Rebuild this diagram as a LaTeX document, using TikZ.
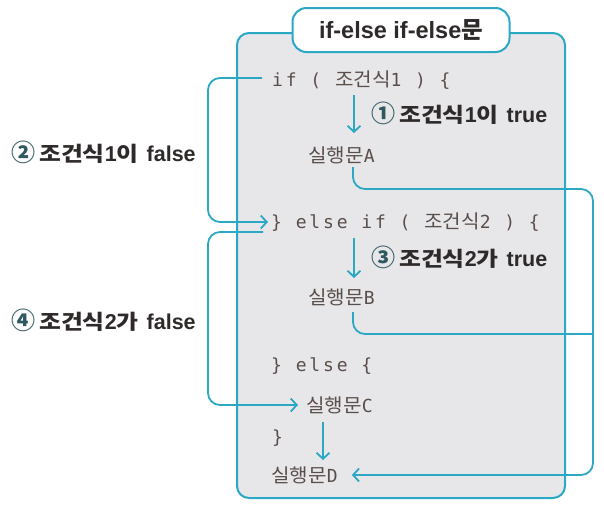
\documentclass[tikz,border=0pt]{standalone}
\usepackage{fontspec}
\setmainfont{Liberation Sans}
\newfontfamily\codefont{DejaVu Sans Mono}[LetterSpace=16]
\newfontfamily\kr{Noto Sans CJK KR}
\newfontfamily\krc{Noto Sans CJK KR}[FakeStretch=1.06]
\newfontfamily\krw{Noto Sans CJK KR}[FakeStretch=1.16]
\usetikzlibrary{arrows.meta}
\definecolor{cy}{HTML}{2AA8C4}
\definecolor{boxbg}{HTML}{E7E7EA}
\definecolor{codec}{HTML}{5A4E4A}
\definecolor{labc}{HTML}{2E2A2A}
\definecolor{numc}{HTML}{2F5960}
\tikzset{
  flow/.style={draw=cy, line width=1.8pt, rounded corners=12pt},
  arr/.style={-{Straight Barb[length=6pt,width=13pt,line width=1.8pt]}},
  code/.style={anchor=west, inner sep=0pt, text=codec, font=\codefont\fontsize{18}{20}\selectfont},
  lab/.style={anchor=west, inner sep=0pt, text=labc, font=\bfseries\fontsize{21.5}{22}\selectfont},
}
\newcommand{\kk}[1]{{\krc\fontsize{19}{20}\selectfont #1}}
\newcommand{\kl}[1]{{\krw\fontsize{20.5}{22}\selectfont #1}}
\newcommand{\circnum}[1]{{\kr\fontsize{24}{22}\selectfont\color{numc}#1}\hspace{4pt}}
\newcommand{\lsp}{\hspace{8pt}}
\begin{document}
\begin{tikzpicture}[x=1pt,y=-1pt]
\useasboundingbox (0,0) rectangle (604,509);
% main box
\draw[cy, line width=2pt, fill=boxbg, rounded corners=12pt] (237,33) rectangle (565,498);
% title
\node[draw=cy, line width=2pt, fill=white, rounded corners=14pt, minimum width=217pt, minimum height=44pt, inner sep=0pt,
      font=\bfseries\fontsize{23.5}{24}\selectfont, text=labc] (title) at (401,30) {if-else if-else{\kr 문}};
% code lines
\node[code] (c1) at (272,80) {if ( \kk{조건식}1 ) \{};
\node[code] (sA) at (308,155) {\kk{실행문}A};
\node[code] (c2) at (271,222) {\} else if ( \kk{조건식}2 ) \{};
\node[code] (sB) at (308,297) {\kk{실행문}B};
\node[code] (c3) at (271,366) {\} else \{};
\node[code] (sC) at (306,405) {\kk{실행문}C};
\node[code] (c4) at (272,438) {\}};
\node[code] (sD) at (271,475) {\kk{실행문}D};
% labels
\node[lab] (l1) at (371,113) {\circnum{①}\kl{조건식}1\kl{이}\lsp true};
\node[lab] (l2) at (11,152) {\circnum{②}\kl{조건식}1\kl{이}\lsp false};
\node[lab] (l3) at (371,257) {\circnum{③}\kl{조건식}2\kl{가}\lsp true};
\node[lab] (l4) at (11,320) {\circnum{④}\kl{조건식}2\kl{가}\lsp false};
% anchor coordinates
\coordinate (a1s) at (354,95);  \coordinate (a1e) at (354,133);
\coordinate (a2s) at (354,238); \coordinate (a2e) at (354,278);
\coordinate (a3s) at (323,422); \coordinate (a3e) at (323,460);
\coordinate (Lx) at (208,0);
\coordinate (Rx) at (593,0);
% down arrows
\draw[flow, arr] (a1s) -- (a1e);
\draw[flow, arr] (a2s) -- (a2e);
\draw[flow, arr] (a3s) -- (a3e);
% left loop 1
\draw[flow, arr] ([xshift=-10pt,yshift=2pt]c1.west) -| (Lx |- c2.west) -- ([xshift=-3pt]c2.west);
% left loop 2
\draw[flow, arr] ([xshift=-8pt,yshift=-10pt]c2.west) -| (Lx |- sC.west) -- ([xshift=-8pt]sC.west);
% right loop from A
\draw[flow, arr] ([xshift=45pt,yshift=-12pt]sA.west) |- ([yshift=-34pt]Rx |- sA.west) |- ([xshift=14pt]sD.east);
% from B
\draw[flow] ([xshift=45pt,yshift=-15pt]sB.west) |- ([yshift=-37pt]Rx |- sB.west);
\end{tikzpicture}
\end{document}
